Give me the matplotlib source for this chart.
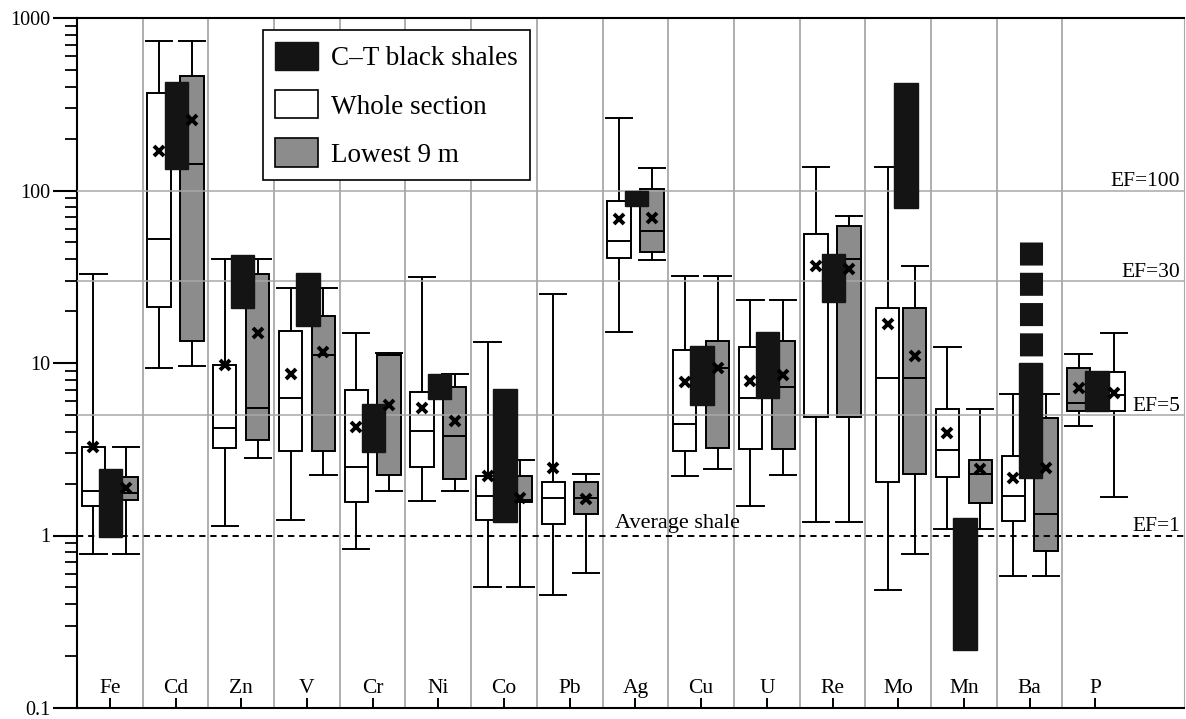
import numpy as np
import matplotlib
matplotlib.use('Agg')
import matplotlib.pyplot as plt
from matplotlib.patches import Patch
from matplotlib.ticker import FixedLocator, FuncFormatter, LogLocator, NullFormatter

plt.rcParams['font.family'] = ['Liberation Serif', 'DejaVu Serif']
plt.rcParams['lines.scale_dashes'] = False

# --- data (enrichment factors) ---
elements = ['Fe', 'Cd', 'Zn', 'V', 'Cr', 'Ni', 'Co', 'Pb', 'Ag', 'Cu', 'U', 'Re', 'Mo', 'Mn', 'Ba', 'P']

# Whole section (white boxes)
ws_whislo = [0.78, 9.3, 1.14, 1.23, 0.84, 1.58, 0.50, 0.45, 15.2, 2.21, 1.48, 1.19, 0.48, 1.09, 0.58, 1.68]
ws_q1 = [1.48, 21, 3.2, 3.1, 1.56, 2.5, 1.23, 1.16, 40.7, 3.1, 3.16, 4.84, 2.05, 2.19, 1.22, 5.29]
ws_med = [1.82, 52, 4.2, 6.3, 2.5, 4.04, 1.69, 1.66, 51, 4.41, 6.24, 55.7, 8.15, 3.13, 1.69, 6.52]
ws_q3 = [3.25, 369, 9.7, 15.3, 6.97, 6.8, 2.21, 2.05, 87.3, 11.9, 12.3, 55.7, 20.7, 5.39, 2.9, 8.9]
ws_whishi = [32.8, 738, 40, 27.3, 15, 31.4, 13.3, 25.1, 264, 32, 23.2, 136, 136, 12.4, 6.6, 15]
ws_mean = [3.25, 170, 9.8, 8.6, 4.27, 5.5, 2.21, 2.45, 68, 7.8, 7.9, 36.6, 16.8, 3.94, 2.15, 6.67]

# Lowest 9 m (grey boxes)
l9_whislo = [0.78, 9.6, 2.8, 2.24, 1.8, 1.8, 0.5, 0.61, 39.6, 2.43, 2.24, 1.19, 0.78, 1.09, 0.58, 4.33]
l9_q1 = [1.61, 13.4, 3.6, 3.1, 2.24, 2.13, 1.57, 1.33, 43.8, 3.23, 3.16, 4.84, 2.26, 1.54, 0.81, 5.29]
l9_med = [1.76, 142, 5.5, 11.2, 11.1, 3.79, 1.6, 1.66, 58.2, 9.3, 7.23, 40, 8.15, 2.26, 1.33, 5.84]
l9_q3 = [2.19, 461, 33, 18.7, 11.1, 7.23, 2.21, 2.03, 102, 13.5, 13.5, 62.5, 20.7, 2.74, 4.78, 9.32]
l9_whishi = [3.25, 738, 40, 27.3, 11.5, 8.63, 2.74, 2.27, 135.6, 32, 23.2, 71.2, 36.6, 5.39, 6.6, 11.3]
l9_mean = [1.88, 256, 14.9, 11.6, 5.7, 4.61, 1.64, 1.62, 69, 9.3, 8.5, 34.9, 11.0, 2.43, 2.45, 7.13]

# C-T black shales (range only)
ct_lo = [0.98, 133, 20.7, 16.4, 3.03, 6.16, 1.2, np.nan, 81.3, 5.7, 6.24, 22.7, 79.5, 0.217, 2.15, 5.29]
ct_hi = [2.43, 427, 42.3, 33.4, 5.76, 8.63, 7.04, np.nan, 99.3, 12.6, 15.1, 42.8, 422, 1.27, 50.5, 9.03]
ba_dashed_from = 10  # Ba black bar drawn dashed above this value

ef_lines = [100, 30, 5]
ef_labels = ['EF=100', 'EF=30', 'EF=5']

# --- layout ---
n = len(elements)
centers = np.arange(n) + 0.5
off_ws = np.full(n, -0.25)
off_ct = np.full(n, 0.015)
off_l9 = np.full(n, 0.25)
off_ws[elements.index('Mo')] = -0.16
off_ct[elements.index('Mo')] = 0.12
off_ws[elements.index('P')] = 0.28
off_ct[elements.index('P')] = 0.025
off_l9[elements.index('P')] = -0.255
box_w = 0.355
cap_w = 0.4

fig = plt.figure(figsize=(11.86, 7.19), dpi=100)
ax = fig.add_axes([77 / 1186, 11 / 719, 1107 / 1186, 690 / 719])
ax.set_yscale('log')
ax.set_ylim(0.1, 1000)
ax.set_xlim(0, 16.85)

grid_c = '#a8a8a8'
for xv in range(1, n):
    ax.axvline(xv, color=grid_c, lw=1.3, zorder=0)
for yv in ef_lines:
    ax.axhline(yv, color=grid_c, lw=1.1, zorder=3.5)
ax.axhline(1, color='black', lw=1.4, ls=(0, (4.5, 3.5)), zorder=3.5)


def stats(lo, q1, med, q3, hi, mean):
    return [dict(whislo=a, q1=b, med=c, q3=d, whishi=e, mean=f, fliers=[])
            for a, b, c, d, e, f in zip(lo, q1, med, q3, hi, mean)]


common = dict(widths=box_w, capwidths=cap_w, patch_artist=True, showmeans=True,
              manage_ticks=False, zorder=3,
              whiskerprops=dict(color='black', lw=1.4),
              capprops=dict(color='black', lw=1.4),
              medianprops=dict(color='black', lw=1.4),
              meanprops=dict(marker='x', markeredgecolor='black', markersize=7.5,
                             markeredgewidth=2.8, zorder=6))

ax.bxp(stats(ws_whislo, ws_q1, ws_med, ws_q3, ws_whishi, ws_mean), positions=centers + off_ws,
       boxprops=dict(facecolor='white', edgecolor='black', lw=1.4), **common)
ax.bxp(stats(l9_whislo, l9_q1, l9_med, l9_q3, l9_whishi, l9_mean), positions=centers + off_l9,
       boxprops=dict(facecolor='#8c8c8c', edgecolor='black', lw=1.4), **common)

# black shale ranges
ct_lo = np.array(ct_lo)
ct_hi = np.array(ct_hi)
solid_hi = ct_hi.copy()
iba = elements.index('Ba')
solid_hi[iba] = ba_dashed_from
ax.bar(centers + off_ct, solid_hi - ct_lo, bottom=ct_lo, width=box_w, color='#141414',
       edgecolor='#141414', zorder=4)
ax.plot([centers[iba] + off_ct[iba]] * 2, [ct_hi[iba], ba_dashed_from], color='#141414',
        lw=16.6, solid_capstyle='butt', dash_capstyle='butt', ls=(0, (16.6, 5.2)), zorder=4)

# axes styling
for s in ['left', 'bottom', 'top']:
    ax.spines[s].set_linewidth(1.5)
ax.spines['right'].set_color(grid_c)
ax.yaxis.set_major_locator(FixedLocator([0.1, 1, 10, 100, 1000]))
ax.yaxis.set_major_formatter(FuncFormatter(lambda v, p: '%g' % v))
ax.yaxis.set_minor_locator(LogLocator(base=10, subs=np.arange(2, 10)))
ax.yaxis.set_minor_formatter(NullFormatter())
ax.tick_params(axis='y', which='major', direction='out', length=17, width=1.5,
               labelsize=14.5, pad=2)
ax.tick_params(axis='y', which='minor', direction='out', length=8.5, width=1.3)
ax.set_xticks(centers)
ax.set_xticklabels([])
ax.tick_params(axis='x', direction='in', length=7, width=1.4)

for c, name in zip(centers, elements):
    ax.text(c, 0.122, name, ha='center', va='baseline', fontsize=15.5)

for yv, lab in zip(ef_lines + [1], ef_labels + ['EF=1']):
    ax.text(16.79, yv * 1.055, lab, ha='right', va='baseline', fontsize=15.5)
ax.text(8.19, 1.105, 'Average shale', ha='left', va='baseline', fontsize=16)

handles = [Patch(facecolor='#141414', edgecolor='#141414'),
           Patch(facecolor='white', edgecolor='black', lw=1.2),
           Patch(facecolor='#8c8c8c', edgecolor='black', lw=1.2)]
leg = ax.legend(handles, ['C\u2013T black shales', 'Whole section', 'Lowest 9 m'],
                loc='upper left', bbox_to_anchor=(0.168, 0.9826), borderaxespad=0,
                fontsize=19.5, handlelength=1.6, handleheight=1.22, labelspacing=0.7,
                borderpad=0.45, handletextpad=0.45, fancybox=False, framealpha=1,
                edgecolor='black')
leg.get_frame().set_linewidth(1.2)
leg.set_zorder(10)

fig.savefig('out.png', dpi=100)
